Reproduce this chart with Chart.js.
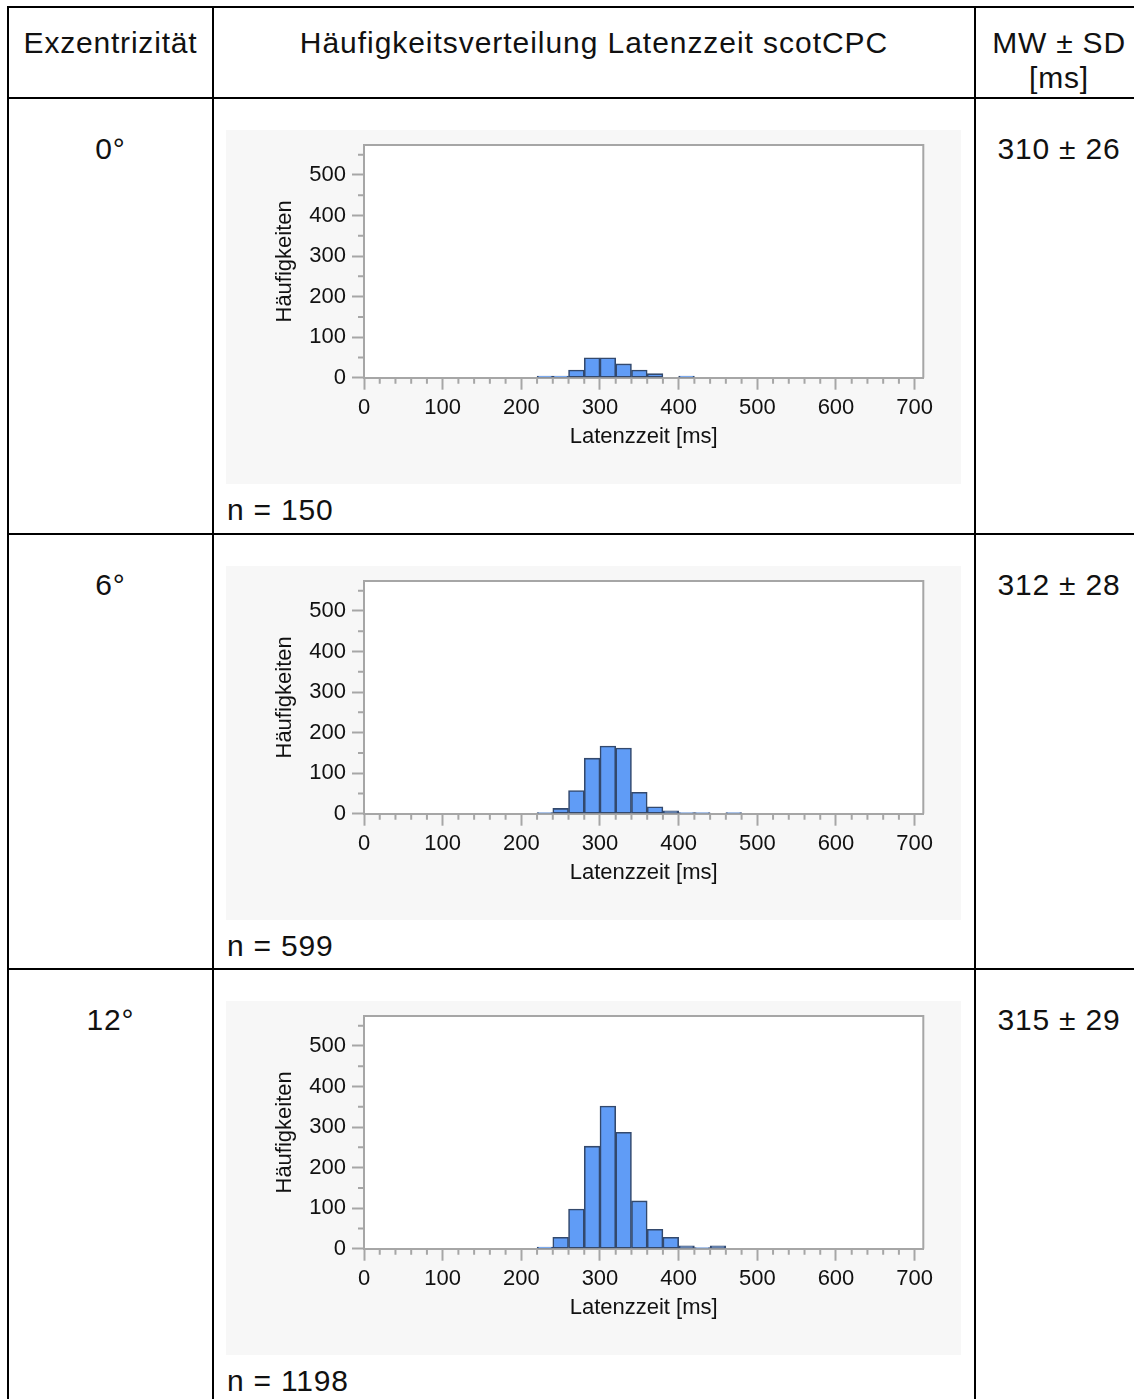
<!DOCTYPE html>
<html>
<head>
<meta charset="utf-8">
<script src="https://cdn.jsdelivr.net/npm/chart.js@4.4.1/dist/chart.umd.min.js"></script>
<style>
  html, body { margin: 0; padding: 0; background: #fff; }
  body { width: 1134px; height: 1399px; position: relative; overflow: hidden;
         font-family: "Liberation Sans", Arial, sans-serif; color: #111; }
  .ln { position: absolute; background: #000; }
  .txt { position: absolute; font-size: 30px; letter-spacing: 0.8px; line-height: 36px; white-space: nowrap; }
  .c1 { left: 9px; width: 203px; text-align: center; }
  .c2 { left: 214px; width: 760px; text-align: center; }
  .c3 { left: 976px; width: 166px; text-align: center; }
  canvas { position: absolute; left: 226px; }
</style>
</head>
<body>
<div id="table"></div>
<script>
// Histogrammdaten (Klassenbreite 20 ms, Klassenanfang)
const binStarts = [220, 240, 260, 280, 300, 320, 340, 360, 380, 400, 420, 440, 460];
const counts0  = [4, 4, 19, 49, 49, 34, 19, 10, 0, 4, 0, 0, 0];
const counts6  = [3, 13, 57, 137, 167, 162, 53, 17, 7, 3, 3, 0, 3];
const counts12 = [4, 28, 98, 253, 352, 287, 118, 48, 28, 7, 3, 7, 0];
const binWidth = 20;

const rowLabels = ['0°', '6°', '12°'];
const meanSd = ['310 ± 26', '312 ± 28', '315 ± 29'];
const nValues = [150, 599, 1198];
const allCounts = [counts0, counts6, counts12];

const xTicks = [0, 100, 200, 300, 400, 500, 600, 700];
const yTicks = [0, 100, 200, 300, 400, 500];

const rowLines = [97, 533, 968];

// Tabelle
const tbl = document.getElementById('table');
function addLine(l, t, w, h) {
  const d = document.createElement('div');
  d.className = 'ln';
  d.style.cssText = `left:${l}px;top:${t}px;width:${w}px;height:${h}px`;
  tbl.appendChild(d);
}
function addText(cls, top, html, extra) {
  const d = document.createElement('div');
  d.className = 'txt ' + cls;
  d.style.top = top + 'px';
  if (extra) d.style.cssText += extra;
  d.innerHTML = html;
  tbl.appendChild(d);
}
addLine(7, 6, 1140, 2);
addLine(7, 6, 2, 1400);
addLine(212, 6, 2, 1400);
addLine(974, 6, 2, 1400);
rowLines.forEach(y => addLine(7, y, 1140, 2));

addText('c1', 25, 'Exzentrizität');
addText('c2', 25, 'Häufigkeitsverteilung Latenzzeit scotCPC', 'letter-spacing:0.95px;');
addText('c3', 25, 'MW ± SD');
addText('c3', 60, '[ms]');

const grey = '#a6a6a6';

const framePlugin = {
  id: 'frame',
  beforeDraw(chart) {
    const {ctx, chartArea: a} = chart;
    ctx.save();
    ctx.fillStyle = '#f7f7f7';
    ctx.fillRect(0, 0, chart.width, chart.height);
    ctx.fillStyle = '#ffffff';
    ctx.fillRect(a.left, a.top, a.right - a.left, a.bottom - a.top);
    ctx.restore();
  },
  afterDraw(chart) {
    const {ctx, chartArea: a, scales} = chart;
    ctx.save();
    ctx.strokeStyle = grey;
    ctx.lineWidth = 2;
    ctx.beginPath();
    ctx.moveTo(a.left, a.top);
    ctx.lineTo(a.right, a.top);
    ctx.lineTo(a.right, a.bottom);
    // kleine Zwischenstriche
    for (let v = 20; v <= 700; v += 20) {
      if (v % 100 === 0) continue;
      const x = scales.x.getPixelForValue(v);
      ctx.moveTo(x, a.bottom);
      ctx.lineTo(x, a.bottom + 6);
    }
    for (let v = 50; v <= 550; v += 100) {
      const y = scales.y.getPixelForValue(v);
      ctx.moveTo(a.left - 6, y);
      ctx.lineTo(a.left, y);
    }
    ctx.stroke();
    ctx.restore();
  }
};

const tickFont = { family: '"Liberation Sans", Arial, sans-serif', size: 22 };

allCounts.forEach((counts, i) => {
  const top = rowLines[i] + 1;
  addText('c1', top + 33, rowLabels[i]);
  addText('c3', top + 33, meanSd[i]);
  addText('', top + 394, 'n = ' + nValues[i], 'left:227px;');

  const cv = document.createElement('canvas');
  cv.width = 735;
  cv.height = 354;
  cv.style.top = (top + 32) + 'px';
  document.body.appendChild(cv);

  new Chart(cv.getContext('2d'), {
    type: 'bar',
    data: {
      datasets: [{
        data: binStarts.map((b, k) => ({ x: b + binWidth / 2, y: counts[k] })),
        backgroundColor: '#609cf6',
        borderColor: '#33496d',
        borderWidth: 1.6,
        borderSkipped: false,
        barPercentage: 1,
        categoryPercentage: 1
      }]
    },
    options: {
      responsive: false,
      animation: false,
      layout: { padding: { left: 0, top: 15, right: 37.7, bottom: 0 } },
      plugins: { legend: { display: false }, tooltip: { enabled: false } },
      scales: {
        x: {
          type: 'linear',
          min: 0,
          max: 711,
          offset: false,
          afterBuildTicks: s => { s.ticks = xTicks.map(v => ({ value: v })); },
          afterFit: s => { s.height = 106.3; s.paddingLeft = 0; s.paddingRight = 0; },
          grid: { offset: false, drawOnChartArea: false, tickLength: 12, tickColor: grey, tickWidth: 2 },
          border: { color: grey, width: 2 },
          ticks: { color: '#111', font: tickFont, padding: 5, maxRotation: 0, autoSkip: false },
          title: { display: true, text: 'Latenzzeit [ms]', color: '#111', font: tickFont, padding: { top: 0, bottom: 34 } }
        },
        y: {
          min: 0,
          max: 574,
          afterBuildTicks: s => { s.ticks = yTicks.map(v => ({ value: v })); },
          afterFit: s => { s.width = 138; s.paddingTop = 0; s.paddingBottom = 0; },
          grid: { drawOnChartArea: false, tickLength: 12, tickColor: grey, tickWidth: 2 },
          border: { color: grey, width: 2 },
          ticks: { color: '#111', font: tickFont, padding: 6 },
          title: { display: true, text: 'Häufigkeiten', color: '#111', font: tickFont, padding: { top: 46, bottom: 0 } }
        }
      }
    },
    plugins: [framePlugin]
  });
});
</script>
</body>
</html>
